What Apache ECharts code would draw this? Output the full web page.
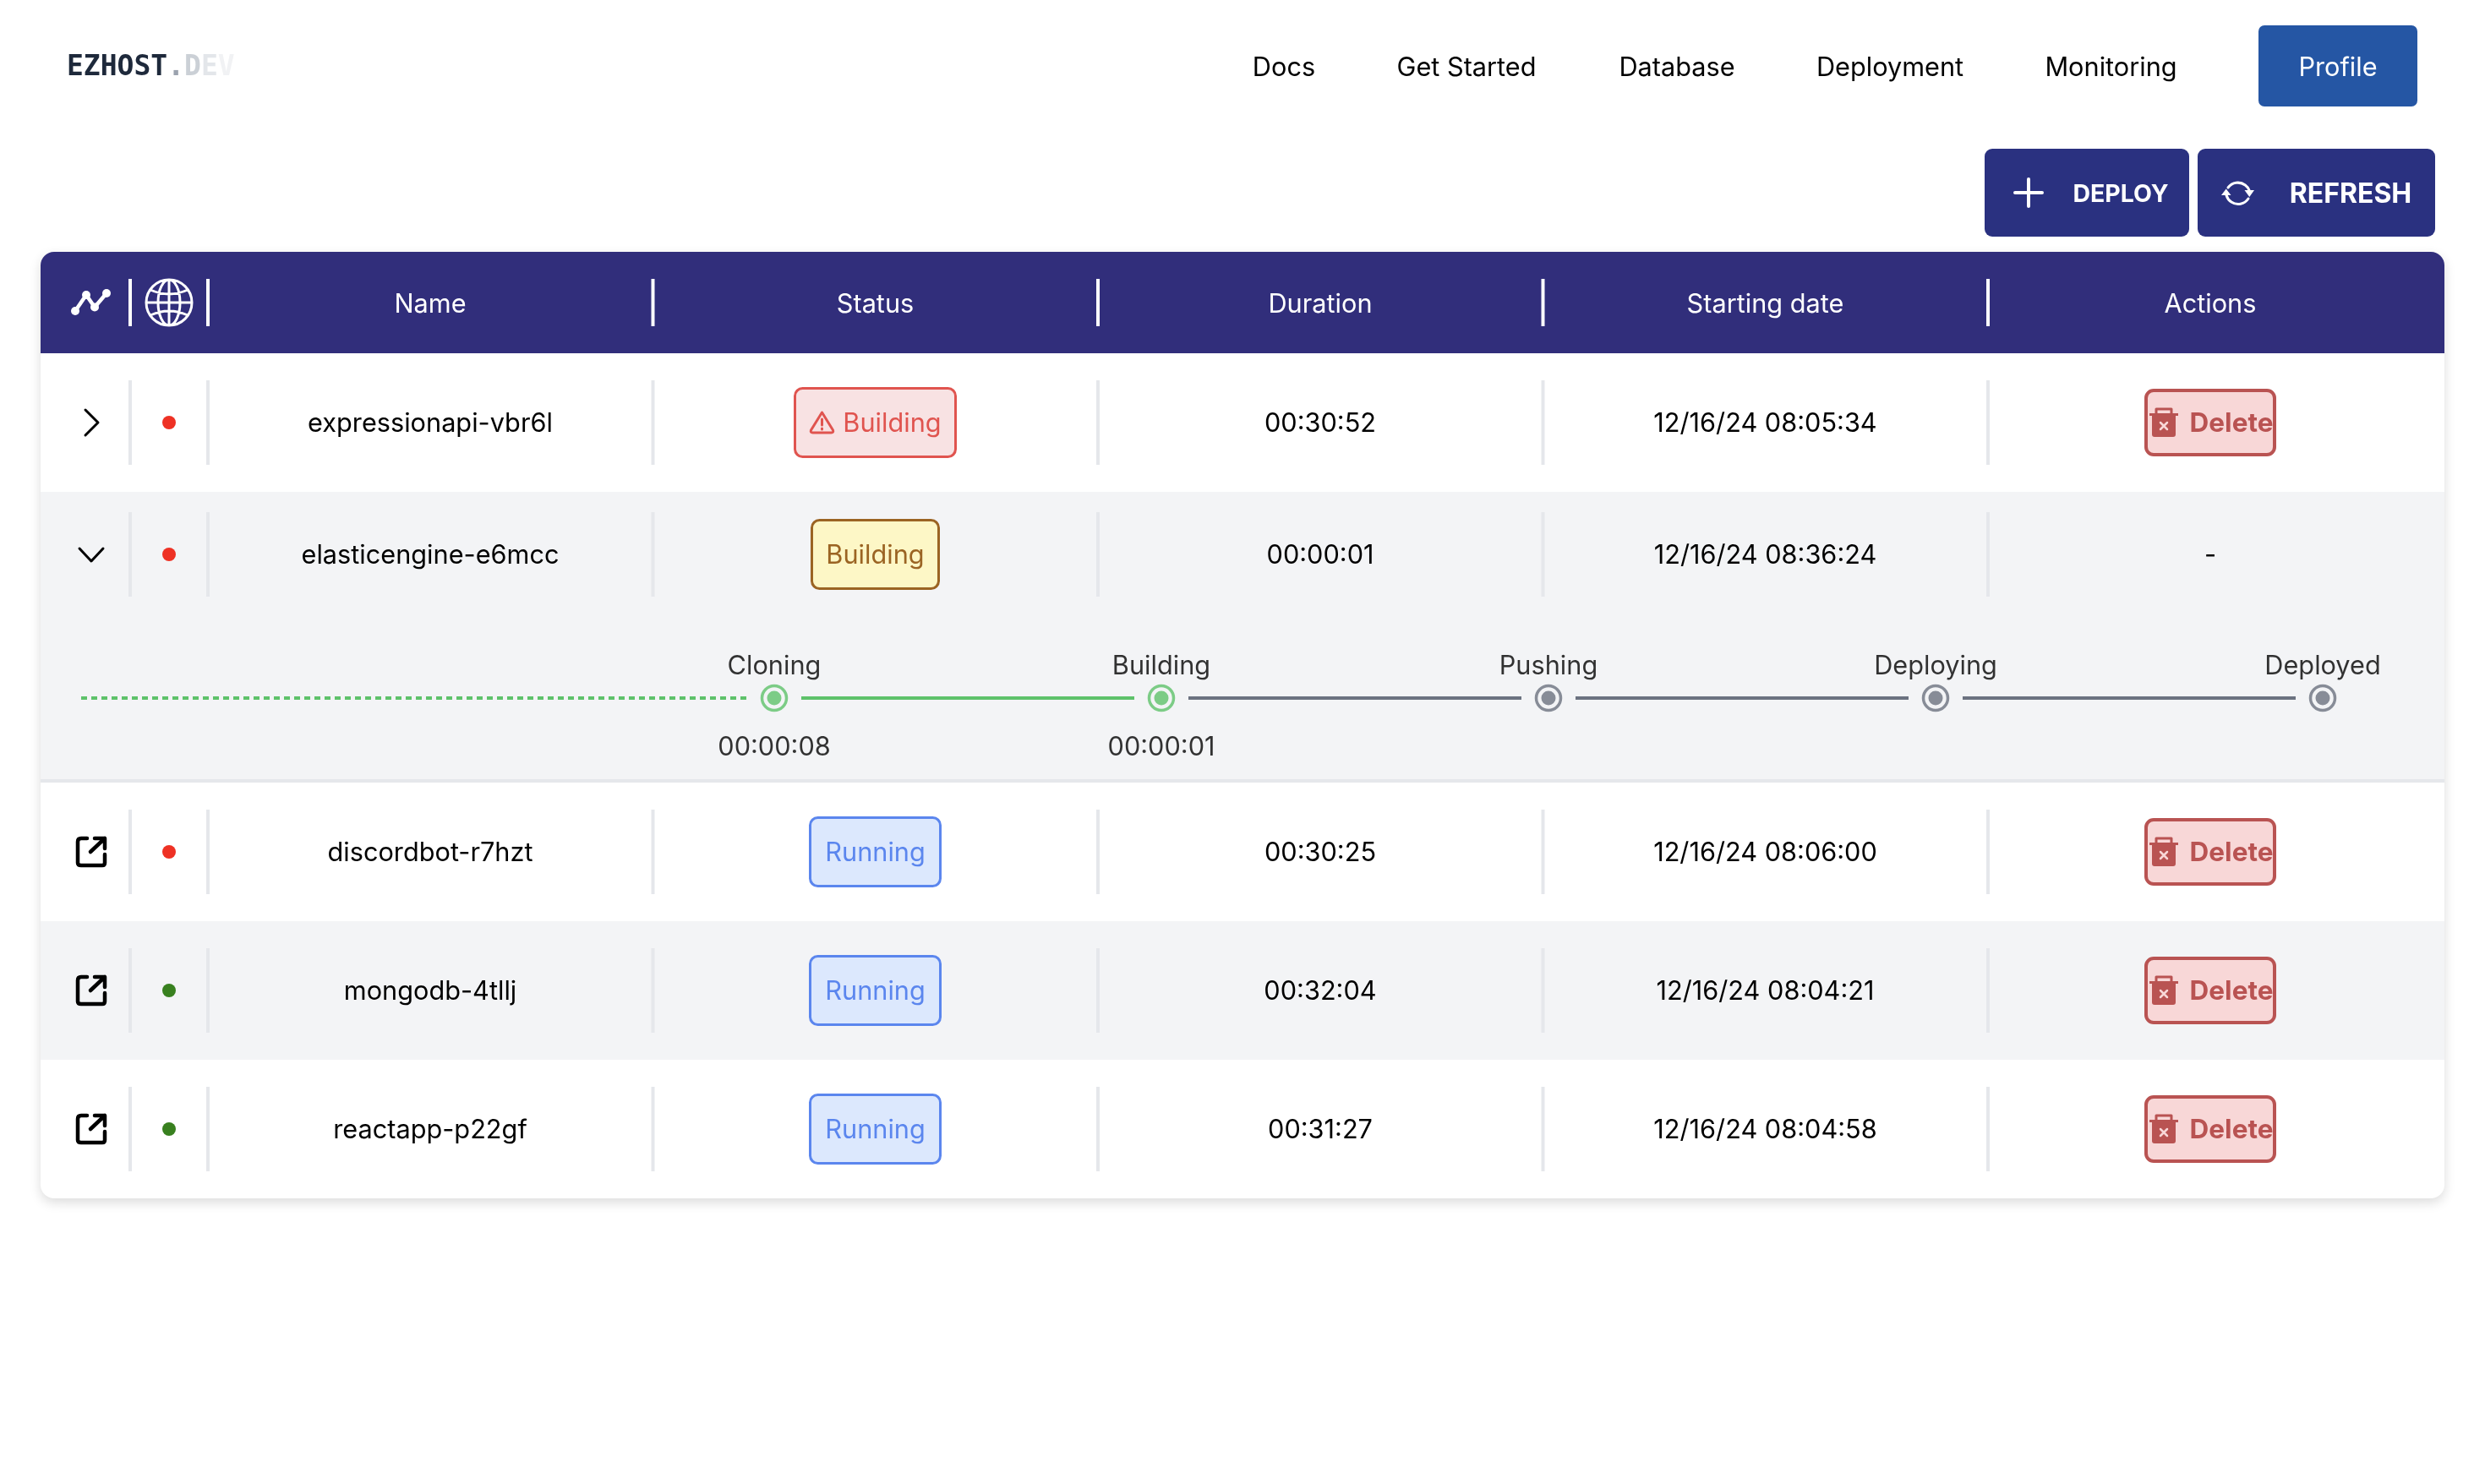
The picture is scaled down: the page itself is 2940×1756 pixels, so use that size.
<!DOCTYPE html>
<html>
<head>
<meta charset="utf-8">
<style>html,body{margin:0;padding:0;background:#fff}#chart{width:2940px;height:1756px}</style>
<script src="https://cdn.jsdelivr.net/npm/echarts@6/dist/echarts.min.js"></script>
</head>
<body>
<div id="chart"></div>
<script>
// data
const navItems = ["Docs", "Get Started", "Database", "Deployment", "Monitoring"];
const columnTitles = ["Name", "Status", "Duration", "Starting date", "Actions"];
const names = ["expressionapi-vbr6l", "elasticengine-e6mcc", "discordbot-r7hzt", "mongodb-4tllj", "reactapp-p22gf"];
const statuses = ["failed", "building", "running", "running", "running"];
const statusLabels = ["Building", "Building", "Running", "Running", "Running"];
const durations = ["00:30:52", "00:00:01", "00:30:25", "00:32:04", "00:31:27"];
const startDates = ["12/16/24 08:05:34", "12/16/24 08:36:24", "12/16/24 08:06:00", "12/16/24 08:04:21", "12/16/24 08:04:58"];
const healthy = [false, false, false, true, true];
const rowIcons = ["closed", "open", "link", "link", "link"];
const actions = ["Delete", "-", "Delete", "Delete", "Delete"];
const stepNames = ["Cloning", "Building", "Pushing", "Deploying", "Deployed"];
const stepDurations = ["00:00:08", "00:00:01", "", "", ""];
const stepDone = [true, true, false, false, false];

// layout, in page pixels
const tableLeft = 48, tableRight = 2892, tableTop = 298, headerBottom = 418;
const rowTops = [418, 582, 926, 1090, 1254];
const rowBottoms = [582, 922, 1090, 1254, 1418];
const rowCenters = [500, 656, 1008, 1172, 1336];
const separators = [154, 246, 772.5, 1299, 1825.5, 2352];
const columnCenters = [509, 1035.5, 1562, 2088.5, 2615];
const navCenters = [1519, 1735, 1984, 2236, 2497.5];
const FONT = "Inter";
const BODY = `400 30.7px ${FONT}`;
const TEXT_NUDGE = 2; // canvas middle sits a bit higher than the css line box
const INK = "#000000";

const statusStyle = {
  failed: { bg: "#f8e2e3", line: "#e0544f", halfW: 95 },
  building: { bg: "#fdf7c6", line: "#9b6423", halfW: 75 },
  running: { bg: "#dce8fd", line: "#5b86ee", halfW: 77 }
};

const ICON = {
  closed: "M-7 -15 L8 0 L-7 15",
  open: "M-14 -7 L0 8 L14 -7",
  link: "M-5 -16 H-12 Q-16 -16 -16 -12 V13 Q-16 16 -12 16 H13 Q16 16 16 13 V3 M-1 0 L16 -16 M4 -16 H16 V-4",
  trend: "M-19 10 L-6 -9 L4 5.5 L18 -11",
  globe: "M0 -27 A27 27 0 1 1 0 27 A27 27 0 1 1 0 -27 M0 -27 A13 27 0 1 1 0 27 A13 27 0 1 1 0 -27 M0 -27 V27 M-27 0 H27 M-22 -15 Q0 -5 22 -15 M-22 15 Q0 5 22 15",
  warn: "M0 -12 L13 9 Q14 12 11 12 H-11 Q-14 12 -13 9 Z M0 -4 V3 M0 7 V8",
  trashBody: "M-17 -11 H17 V-8 H14 V14 Q14 17 11 17 H-11 Q-14 17 -14 14 V-8 H-17 Z",
  trashHandle: "M-9 -11 V-16 H9 V-11",
  trashX: "M-4 0 L4 8 M4 0 L-4 8",
  plus: "M-16 0 H16 M0 -16 V16",
  refresh: "M-12 -6 A14.5 14.5 0 0 1 13 -3 M12 7 A14.5 14.5 0 0 1 -14 3",
  refreshHeads: "M7.5 -3 H19 L13.3 5 Z M-20 3 H-8.5 L-14.3 -4.5 Z"
};

function text(api, x, y, value, fill, font, align) {
  const p = api.coord([x, y + TEXT_NUDGE]);
  return { type: "text", x: p[0], y: p[1], style: { text: value, fill, font: font || BODY, align: align || "center", verticalAlign: "middle" } };
}
function box(api, x0, y0, x1, y1, fill, r, stroke, lw, extra) {
  const a = api.coord([x0, y0]), b = api.coord([x1, y1]);
  return {
    type: "rect",
    shape: { x: a[0], y: a[1], width: b[0] - a[0], height: b[1] - a[1], r: r || 0 },
    style: Object.assign({ fill, stroke: stroke || null, lineWidth: lw || 0 }, extra || {})
  };
}
function icon(api, x, y, d, stroke, lw, fill) {
  const p = api.coord([x, y]);
  return { type: "path", x: p[0], y: p[1], shape: { pathData: d }, style: { stroke: stroke || null, lineWidth: lw || 0, fill: fill || null, lineCap: "round", lineJoin: "round" } };
}
function dot(api, x, y, r, fill) {
  const p = api.coord([x, y]);
  return { type: "circle", shape: { cx: p[0], cy: p[1], r }, style: { fill } };
}
function sepBar(api, x, y0, y1, fill) {
  return box(api, x - 2, y0, x + 2, y1, fill);
}

function renderTopBar(params, api) {
  const kids = [];
  const m = `700 33px "DejaVu Sans Mono"`;
  const logo = text(api, 79, 78, "{a|EZHOST}{b|.}{c|D}{d|E}{e|V}", "#1e293b", m, "left");
  logo.style.rich = {
    a: { fill: "#1e293b", font: m }, b: { fill: "#9ca3af", font: m }, c: { fill: "#cbd0d6", font: m },
    d: { fill: "#e3e6ea", font: m }, e: { fill: "#f1f2f4", font: m }
  };
  kids.push(logo);
  navItems.forEach((n, i) => kids.push(text(api, navCenters[i], 79, n, INK)));
  kids.push(box(api, 2672, 30, 2860, 126, "#2556a4", 7));
  kids.push(text(api, 2766, 79, "Profile", "#ffffff"));
  kids.push(box(api, 2348, 176, 2590, 280, "#2a3180", 9));
  kids.push(icon(api, 2400, 228, ICON.plus, "#ffffff", 4));
  kids.push(text(api, 2509, 228, "DEPLOY", "#ffffff", `700 28.5px ${FONT}`));
  kids.push(box(api, 2600, 176, 2881, 280, "#2a3180", 9));
  kids.push(icon(api, 2648, 228, ICON.refresh, "#ffffff", 3));
  kids.push(icon(api, 2648, 228, ICON.refreshHeads, null, 0, "#ffffff"));
  kids.push(text(api, 2781, 228, "REFRESH", "#ffffff", `700 32px ${FONT}`));
  return { type: "group", children: kids };
}

function renderFrame(params, api) {
  const kids = [];
  kids.push(box(api, tableLeft, tableTop, tableRight, rowBottoms[4], "#ffffff", 16, null, 0,
    { shadowBlur: 14, shadowColor: "rgba(0,0,0,0.14)", shadowOffsetY: 5 }));
  kids.push(box(api, tableLeft, tableTop, tableRight, headerBottom, "#312e7b", [16, 16, 0, 0]));
  kids.push(box(api, tableLeft, rowTops[1], tableRight, rowBottoms[1], "#f3f4f6"));
  kids.push(box(api, tableLeft, rowBottoms[1], tableRight, rowTops[2], "#e5e7eb"));
  kids.push(box(api, tableLeft, rowTops[3], tableRight, rowBottoms[3], "#f3f4f6"));
  separators.forEach(x => kids.push(sepBar(api, x, 330, 386, "#ffffff")));
  kids.push(icon(api, 108, 358, ICON.trend, "#ffffff", 4.5));
  [[-19, 10], [-6, -9], [4, 5.5], [18, -11]].forEach(d => kids.push(dot(api, 108 + d[0], 358 + d[1], 5, "#ffffff")));
  kids.push(icon(api, 200, 358, ICON.globe, "#ffffff", 3));
  columnTitles.forEach((t, i) => kids.push(text(api, columnCenters[i], 359, t, "#ffffff")));
  return { type: "group", children: kids };
}

function renderRow(params, api) {
  const i = api.value(0), y = rowCenters[i], kids = [];
  separators.forEach(x => kids.push(sepBar(api, x, y - 50, y + 50, "#e5e7eb")));
  kids.push(icon(api, 108, y, ICON[rowIcons[i]], INK, rowIcons[i] === "link" ? 4.5 : 3));
  kids.push(dot(api, 200, y, 8, healthy[i] ? "#38801f" : "#ee3124"));
  kids.push(text(api, columnCenters[0], y, names[i], INK));
  const st = statusStyle[statuses[i]], cx = columnCenters[1];
  kids.push(box(api, cx - st.halfW, y - 40.5, cx + st.halfW, y + 40.5, st.bg, 9, st.line, 3));
  if (statuses[i] === "failed") {
    kids.push(icon(api, cx - 63, y, ICON.warn, st.line, 3));
    kids.push(text(api, cx + 20, y, statusLabels[i], st.line));
  } else {
    kids.push(text(api, cx, y, statusLabels[i], st.line));
  }
  kids.push(text(api, columnCenters[2], y, durations[i], INK));
  kids.push(text(api, columnCenters[3], y, startDates[i], INK));
  const ax = columnCenters[4];
  if (actions[i] === "Delete") {
    kids.push(box(api, ax - 76, y - 38, ax + 76, y + 38, "#f8d7d7", 9, "#b95352", 4));
    kids.push(icon(api, ax - 55, y, ICON.trashHandle, "#b95352", 3));
    kids.push(icon(api, ax - 55, y, ICON.trashBody, null, 0, "#b95352"));
    kids.push(icon(api, ax - 55, y, ICON.trashX, "#f8d7d7", 2.5));
    kids.push(text(api, ax + 25, y, actions[i], "#b95352", `700 31.5px ${FONT}`));
  } else {
    kids.push(text(api, ax, y, actions[i], INK));
  }
  return { type: "group", children: kids };
}

function renderStepLine(params, api) {
  const i = api.value(0);
  const a = api.coord([i, 0]), b = api.coord([i + 1, 0]);
  const done = stepDone[i + 1];
  return {
    type: "line",
    shape: { x1: a[0] + 32, y1: a[1], x2: b[0] - 32, y2: b[1] },
    style: { stroke: done ? "#5ec26a" : "#6b7280", lineWidth: 4 }
  };
}
function renderLeadIn(params, api) {
  const a = api.coord([0, 0]);
  return {
    type: "line",
    shape: { x1: a[0] - 820, y1: a[1], x2: a[0] - 33, y2: a[1] },
    style: { stroke: "#5ec26a", lineWidth: 4, lineDash: [7, 5] }
  };
}

const stepColor = i => (stepDone[i] ? "#5ec26a" : "#6b7280");
const pageAxis = max => ({ type: "value", min: 0, max, show: false });

const option = {
  animation: false,
  backgroundColor: "#ffffff",
  grid: [
    { left: 0, top: 0, width: 2940, height: 1756 },
    { left: 916, top: 806, width: 1832, height: 40 }
  ],
  xAxis: [
    pageAxis(2940),
    { gridIndex: 1, type: "value", min: 0, max: 4, show: false }
  ],
  yAxis: [
    Object.assign(pageAxis(1756), { inverse: true }),
    { gridIndex: 1, type: "value", min: -1, max: 1, show: false }
  ],
  series: [
    { type: "custom", name: "frame", coordinateSystem: "cartesian2d", data: [[0]], renderItem: renderFrame, silent: true, clip: false },
    { type: "custom", name: "topbar", data: [[0]], renderItem: renderTopBar, silent: true, clip: false },
    { type: "custom", name: "rows", data: names.map((n, i) => [i]), renderItem: renderRow, silent: true, clip: false },
    { type: "custom", name: "leadIn", xAxisIndex: 1, yAxisIndex: 1, data: [[0]], renderItem: renderLeadIn, silent: true, clip: false },
    { type: "custom", name: "stepLines", xAxisIndex: 1, yAxisIndex: 1, data: stepNames.slice(1).map((n, i) => [i]), renderItem: renderStepLine, silent: true, clip: false },
    {
      type: "scatter", name: "stepRing", xAxisIndex: 1, yAxisIndex: 1, symbol: "circle", symbolSize: 29, silent: true, clip: false,
      data: stepNames.map((n, i) => ({ name: n, value: [i, 0], itemStyle: { color: "#f3f4f6", borderColor: stepColor(i), borderWidth: 3.5 } })),
      label: { show: true, position: "top", distance: 5, formatter: "{b}", color: INK, fontFamily: FONT, fontSize: 30.7 }
    },
    {
      type: "scatter", name: "stepDot", xAxisIndex: 1, yAxisIndex: 1, symbol: "circle", symbolSize: 17, silent: true, clip: false,
      data: stepNames.map((n, i) => ({ name: stepDurations[i], value: [i, 0], itemStyle: { color: stepColor(i) } })),
      label: { show: true, position: "bottom", distance: 35, formatter: "{b}", color: INK, fontFamily: FONT, fontSize: 30.7 }
    }
  ]
};

const E = echarts.init(document.getElementById("chart"));
E.setOption(option);
window.addEventListener("resize", () => E.resize());
</script>
</body>
</html>
